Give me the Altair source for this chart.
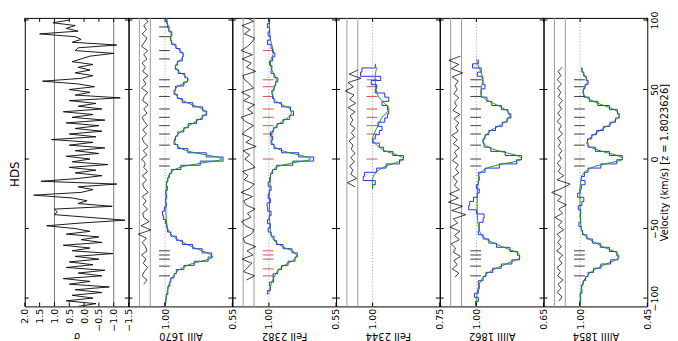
import altair as alt
import pandas as pd

FONT = "DejaVu Sans"
W, H = 105, 292
VDOM = [-106, 101.5]
EDGE_V = [-100, -50, 0, 50, 100]

# ---------------- sigma panel ----------------
SIGMA_V0, SIGMA_DV = -106, 2
SIGMA = [0.2, -0.4, 0.6, -0.3, 0.4, -0.6, 0.3, -0.85, 0.5, -0.2,
         0.7, -0.6, 0.2, -0.7, 0.6, -0.3, 0.5, -0.5, 0.3, -0.98,
         0.4, -0.2, 0.7, -0.6, 0.1, -0.5, 0.6, -0.2, 0.3, 1.26,
         0.1, -1.38, -0.2, 1.0, 0.9, 1.0, -0.95, 0.2, -0.1, 0.4,
         1.7, 0.1, -0.3, 0.2, -1.1, 1.45, 0.2, -0.6, 0.3, -0.4,
         0.5, -0.8, 0.4, -0.2, 0.6, -0.5, 0.3, -0.7, 0.5, -0.3,
         1.1, -0.4, 0.5, -0.6, 0.3, -0.5, 0.6, -0.7, 0.4, -0.3,
         0.7, -0.6, 0.2, -0.4, 0.5, -1.22, 0.3, -0.2, 0.5, -0.35,
         0.2, 1.4, 0.1, -0.3, 0.3, -0.2, 0.2, -0.3, 0.4, 0.1,
         -0.2, -1.0, 0.3, 0.2, -1.1, 0.4, 0.1, 0.3, 1.5, 0.2,
         0.6, 0.3, 1.05, 0.5]
SIGMA_TICKS = [2.0, 1.5, 1.0, 0.5, 0.0, -0.5, -1.0, -1.5]

# ---------------- AlII 1670 ----------------
AL1670_MV = [-105, -98, -90, -84, -80, -76, -73, -70.5, -68, -64, -60, -56, -52, -46, -36,
             -26, -18, -13, -9, -6, -3, 0, 2.5, 5, 8, 12, 16, 20, 24, 28, 31, 33.5, 36, 40, 44,
             48, 52, 55, 57, 60, 64, 67, 71, 74.5, 78, 82, 86, 90, 94, 98, 102]
AL1670_MF = [1.0, 0.99, 0.975, 0.945, 0.91, 0.84, 0.74, 0.68, 0.71, 0.80, 0.88, 0.94, 0.975, 0.99, 0.995,
             0.995, 0.99, 0.98, 0.955, 0.90, 0.76, 0.62, 0.70, 0.82, 0.90, 0.935, 0.93, 0.89, 0.84, 0.78,
             0.74, 0.725, 0.75, 0.84, 0.91, 0.935, 0.92, 0.86, 0.845, 0.87, 0.92, 0.93, 0.90, 0.876, 0.90,
             0.94, 0.965, 0.96, 0.975, 0.985, 0.99]
AL1670_DV0 = -105
AL1670_DATA = [1.003, 0.995, 0.993, 0.982, 0.981, 0.968, 0.962, 0.940, 0.925, 0.874,
               0.805, 0.712, 0.688, 0.752, 0.815, 0.884, 0.925, 0.962, 0.985, 0.990,
               0.998, 1.012, 1.018, 1.005, 0.992, 0.998, 0.990, 0.996, 0.985, 0.992,
               0.982, 0.972, 0.958, 0.895, 0.765, 0.612, 0.725, 0.848, 0.915, 0.940,
               0.930, 0.915, 0.875, 0.845, 0.790, 0.752, 0.722, 0.748, 0.815, 0.885,
               0.918, 0.940, 0.930, 0.875, 0.850, 0.868, 0.912, 0.932, 0.918, 0.885,
               0.880, 0.900, 0.928, 0.958, 0.962, 0.955, 0.975, 0.985, 0.990, 0.992]
AL1670_RV0 = -90
AL1670_RES = [0.2, -0.4, 0.5, 0.1, -0.5, 0.3, -0.2, 0.6, -0.4, -0.1,
              0.5, -0.3, 1.2, -1.1, 0.7, -0.8, 0.2, 0.4, -0.5, 0.3,
              -0.2, 0.5, -0.6, 0.1, 0.4, -0.3, 0.5, -0.5, 0.2, -0.1,
              0.6, -0.4, 0.3, -0.6, 0.2, 0.5, -0.3, 0.4, -0.5, 0.1,
              0.5, -0.4, 0.2, -0.6, 0.4, 0.1, -0.5, 0.6, -0.2, 0.3,
              -0.6, 0.4, -0.1, 0.5, -0.4, 0.2, -0.5, 0.6, 0.1, -0.4,
              0.5, -0.3, 0.2, -0.6, 0.3]

# ---------------- FeII 2382 ----------------
FE2382_MV = [-97, -92, -87, -83, -79, -76, -73, -70, -67, -64, -61, -57, -52, -40, -25, -15, -10,
             -6, -3, 0, 2.5, 5, 8, 12, 16, 20, 24, 27, 30, 33, 36, 39, 42, 46, 50, 54, 57, 60, 64,
             68, 72, 76, 80, 86, 92, 102]
FE2382_MF = [1.0, 0.99, 0.975, 0.955, 0.93, 0.89, 0.84, 0.815, 0.83, 0.89, 0.94, 0.975, 0.99, 0.995,
             0.995, 0.99, 0.985, 0.95, 0.85, 0.72, 0.78, 0.88, 0.95, 0.98, 0.985, 0.975, 0.95, 0.91,
             0.87, 0.85, 0.86, 0.91, 0.955, 0.975, 0.97, 0.955, 0.95, 0.96, 0.98, 0.99, 0.985, 0.97,
             0.975, 0.99, 0.995, 1.0]
FE2382_DV0 = -96
FE2382_DATA = [1.01, 0.99, 0.995, 0.968, 0.972, 0.94, 0.915, 0.872, 0.825, 0.81,
               0.845, 0.905, 0.95, 0.965, 0.985, 1.005, 0.99, 1.01, 0.998, 0.985,
               1.008, 1.012, 0.99, 1.005, 0.998, 0.985, 1.005, 0.995, 0.99, 0.975,
               0.95, 0.84, 0.70, 0.80, 0.915, 0.965, 0.985, 0.975, 0.99, 0.97,
               0.945, 0.905, 0.86, 0.835, 0.855, 0.915, 0.965, 0.975, 0.98, 0.965,
               0.955, 0.94, 0.965, 0.985, 0.98, 0.995, 0.975, 0.96, 0.975, 0.985,
               1.01, 0.99, 1.005, 0.995, 1.01, 0.995, 1.0]
FE2382_RV0 = -87
FE2382_RES = [0.4, -1.1, 0.9, 0.2, -0.6, 1.2, -0.8, 0.3, -1.3, 0.7,
              1.0, -0.5, -1.0, 0.6, 1.3, -0.4, 0.2, -1.2, 0.5, 0.9,
              -0.7, 1.4, -0.3, -1.0, 0.8, 0.1, 1.1, -1.2, -0.4, 0.7,
              -0.2, 1.0, -1.4, 0.5, -0.6, 1.2, 0.3, -0.9, 0.6, 1.4,
              -0.8, 0.2, -1.1, 0.9, -0.3, 1.3, -0.9, -0.2, 0.7, 1.1,
              -1.3, 0.4, -0.5, 1.2, -0.7, 1.4, 0.2, -0.6, -1.1, 0.8,
              -0.3, 1.2, -0.9, 0.5]

# ---------------- FeII 2344 ----------------
FE2344_MV = [-20, -14, -9, -6, -3, 0, 3, 6, 10, 14, 18, 22, 26, 30, 34, 37, 40, 44, 48, 54, 60, 66]
FE2344_MF = [1.0, 1.0, 0.985, 0.96, 0.92, 0.885, 0.91, 0.955, 0.985, 1.0, 0.995, 0.985, 0.975,
             0.965, 0.945, 0.94, 0.955, 0.975, 0.985, 0.99, 0.99, 0.985]
FE2344_DV0 = -20
FE2344_DATA = [1.00, 0.99, 1.035, 1.03, 0.985, 0.95, 0.90, 0.885, 0.925, 0.96,
               0.975, 1.0, 0.99, 0.975, 0.965, 0.98, 0.955, 0.945, 0.94, 0.945,
               0.965, 0.94, 0.955, 0.99, 0.985, 1.005, 0.97, 1.045, 1.04, 0.99]
FE2344_RV0 = -20
FE2344_RES = [-0.5, 0.9, -0.8, 0.3, -0.1, 0.5, -0.4, 0.3, -0.5, 0.2,
              -0.1, 0.6, -0.4, 0.2, -0.5, 0.4, -0.1, 0.4, -0.5, 0.8,
              -0.6, 0.5, -0.3, 1.3, -0.2, 0.8, -1.6, 0.6, -1.0]

# ---------------- AlIII 1862 ----------------
AL1862_MV = [-104, -96, -90, -85, -81, -77, -74, -71, -68, -65, -61, -57, -53, -48, -40, -25, -16,
             -11, -7, -4, -1.5, 0, 2, 5, 8, 12, 16, 20, 24, 28, 31, 34, 38, 42, 46, 50, 54, 58, 62,
             67, 72]
AL1862_MF = [1.0, 0.995, 0.985, 0.965, 0.93, 0.87, 0.82, 0.775, 0.78, 0.83, 0.9, 0.955, 0.98, 0.99,
             0.995, 0.995, 0.99, 0.985, 0.95, 0.88, 0.79, 0.765, 0.78, 0.86, 0.93, 0.965, 0.955,
             0.93, 0.88, 0.84, 0.825, 0.835, 0.88, 0.94, 0.975, 0.975, 0.97, 0.965, 0.975, 0.99, 1.0]
AL1862_DV0 = -104
AL1862_DATA = [1.005, 0.99, 1.01, 0.99, 0.985, 0.99, 0.965, 0.95, 0.915, 0.87,
               0.815, 0.775, 0.785, 0.825, 0.895, 0.935, 0.965, 0.99, 0.985, 0.985,
               0.965, 0.96, 1.0, 1.04, 1.035, 1.015, 0.995, 0.985, 1.0, 0.99,
               0.985, 0.99, 0.955, 0.88, 0.79, 0.765, 0.85, 0.925, 0.96, 0.965,
               0.955, 0.935, 0.90, 0.865, 0.84, 0.82, 0.835, 0.87, 0.92, 0.945,
               0.975, 0.975, 0.955, 0.965, 0.97, 0.995, 0.975, 1.02, 0.99]
AL1862_RV0 = -85
AL1862_RES = [0.2, -0.5, 0.7, -0.2, 0.4, -0.8, 0.5, 0.1, 0.9, -0.6,
              0.3, -0.7, 1.1, -0.3, 0.5, -1.8, 0.8, -1.2, 1.4, -0.4,
              1.2, -0.6, 0.3, -0.2, 0.6, -0.5, 0.1, -0.4, 0.7, -0.2,
              0.3, -0.6, 0.5, -0.2, 0.8, -0.4, 0.1, -0.5, 0.4, -0.7,
              0.6, -0.1, 0.3, -0.5, 0.4, -0.2, 0.2, -0.4, 0.7, -1.2,
              0.9, -0.5, 1.3, -0.8]

# ---------------- AlIII 1854 ----------------
AL1854_MV = [-104, -96, -90, -86, -82, -78, -75, -72, -70, -67, -64, -60, -56, -52, -46, -35, -20,
             -14, -10, -6, -3, 0, 2, 5, 8, 11, 14, 18, 22, 26, 30, 32, 35, 38, 41, 44, 47, 50, 53,
             56, 59, 62, 66]
AL1854_MF = [1.0, 0.995, 0.98, 0.96, 0.92, 0.85, 0.77, 0.70, 0.68, 0.71, 0.79, 0.88, 0.95, 0.985,
             0.995, 1.0, 1.0, 0.99, 0.97, 0.9, 0.77, 0.65, 0.68, 0.8, 0.9, 0.945, 0.93, 0.88, 0.81,
             0.74, 0.69, 0.68, 0.71, 0.79, 0.88, 0.94, 0.975, 0.97, 0.955, 0.94, 0.955, 0.975, 0.99]
AL1854_DV0 = -104
AL1854_DATA = [1.005, 0.995, 1.0, 0.985, 0.99, 0.975, 0.955, 0.935, 0.89, 0.83,
               0.75, 0.69, 0.70, 0.76, 0.835, 0.90, 0.945, 0.98, 0.99, 1.01,
               0.995, 1.0, 0.995, 1.015, 0.985, 0.97, 1.02, 1.0, 0.99, 0.96,
               0.99, 0.965, 0.935, 0.83, 0.70, 0.655, 0.76, 0.875, 0.935, 0.94,
               0.905, 0.865, 0.81, 0.755, 0.71, 0.68, 0.695, 0.76, 0.855, 0.925,
               0.97, 0.975, 0.96, 0.935, 0.95, 0.97, 0.985]
AL1854_RV0 = -102
AL1854_RES = [0.1, -0.4, 0.5, -0.2, 0.3, -0.6, 0.4, -0.1, 0.5, -0.4,
              0.2, -0.5, 0.6, -0.3, 0.4, -0.2, 0.5, -0.7, 0.3, -0.4,
              0.9, -0.5, 0.2, -1.2, 0.4, -0.3, 1.5, -0.4, -1.9, 0.5,
              -0.7, 0.3, -0.2, 0.5, -0.3, 0.2, -0.4, 0.3, -0.2, 0.4,
              -0.5, 0.2, -0.3, 0.5, -0.2, 0.4, -0.3, 0.2, -0.5, 0.3,
              -0.2, 0.4, -0.3, 0.5, -0.2, 0.3, -0.4]

AL_COMPONENTS = [-84, -77, -72, -69, -66, -5, 0, 10, 18, 24, 30, 36, 45, 52, 57, 72, 78, 88, 95]
FE_COMPONENTS = [-84, -79, -72, -69, -66, 0, 18, 24, 30, 36, 45, 52, 57, 78]

DATA_STEP = 3
TITLE_Y = 24


def yenc(axis):
    return alt.Y("v:Q", scale=alt.Scale(domain=VDOM, nice=False, zero=False), axis=axis)


def xenc(dom, axis):
    return alt.X("f:Q", scale=alt.Scale(domain=dom, reverse=True, nice=False, zero=False), axis=axis)


def bottom_axis(values, fmt, title):
    return alt.Axis(values=values, format=fmt, title=title, labelAngle=270, labelAlign="right",
                    labelBaseline="middle", labelPadding=2, labelFlush=False, labelOverlap=False,
                    ticks=False, domain=False, grid=False, titleAngle=180, titleBaseline="bottom",
                    titleY=TITLE_Y, titleFontWeight="normal")


def frame_ticks(X, Y, fvals):
    ev = pd.DataFrame({"v": EDGE_V})
    fv = pd.DataFrame({"f": fvals})
    lt = alt.Chart(ev).mark_rule(color="black", strokeWidth=1).encode(y=Y, x=alt.value(0), x2=alt.value(4))
    rt = alt.Chart(ev).mark_rule(color="black", strokeWidth=1).encode(y=Y, x=alt.value(W - 4), x2=alt.value(W))
    bt = alt.Chart(fv).mark_rule(color="black", strokeWidth=1).encode(x=X, y=alt.value(H), y2=alt.value(H - 4))
    tt = alt.Chart(fv).mark_rule(color="black", strokeWidth=1).encode(x=X, y=alt.value(0), y2=alt.value(4))
    return [lt, rt, bt, tt]


def sigma_panel(yax):
    X = xenc([-1.5, 2.0], bottom_axis(SIGMA_TICKS, ".1f", "σ"))
    Y = yenc(yax)
    lines = pd.DataFrame({"f": [1.0, -1.0]})
    tr = pd.DataFrame({"v": [SIGMA_V0 + SIGMA_DV * i for i in range(len(SIGMA))], "f": SIGMA})
    layers = [
        alt.Chart(lines).mark_rule(color="#777777", strokeWidth=1).encode(x=X),
        alt.Chart(tr).mark_line(color="black", strokeWidth=0.9, clip=True).encode(x=X, y=Y, order="v:Q"),
    ] + frame_ticks(X, Y, SIGMA_TICKS)
    return alt.layer(*layers).properties(width=W, height=H)


def spectral_panel(name, xmin, mv, mf, dv0, dvals, rv0, rvals, comps, ccolor, yax):
    d = 1 - xmin
    dom = [xmin, 1 + 0.545 * d]
    X = xenc(dom, bottom_axis([1.0, xmin], ".2f", name))
    Y = yenc(yax)
    bands = pd.DataFrame({"f": [1 + 0.383 * d, 1 + 0.221 * d]})
    dotted = pd.DataFrame({"f": [1.0]})
    res = pd.DataFrame({"v": [rv0 + DATA_STEP * i for i in range(len(rvals))],
                        "f": [1 + 0.302 * d + r * 0.081 * d for r in rvals]})
    vmin, vmax = dv0, dv0 + DATA_STEP * (len(dvals) - 1)
    cv = [c for c in comps if vmin <= c <= vmax]
    comp = pd.DataFrame({"v": cv, "f": [1 + 0.09 * d] * len(cv), "f2": [1 - 0.07 * d] * len(cv)})
    rows = []
    for i, fv in enumerate(dvals):
        v = dv0 + DATA_STEP * i
        rows.append({"k": 2 * i, "v": v - DATA_STEP / 2, "f": fv})
        rows.append({"k": 2 * i + 1, "v": v + DATA_STEP / 2, "f": fv})
    steps = pd.DataFrame(rows)
    model = pd.DataFrame({"v": mv, "f": mf})
    layers = [
        alt.Chart(bands).mark_rule(color="#9a9a9a", strokeWidth=1).encode(x=X),
        alt.Chart(dotted).mark_rule(color="#888888", strokeWidth=0.8, strokeDash=[1, 2]).encode(x=X),
        alt.Chart(res).mark_line(color="black", strokeWidth=0.75, clip=True).encode(x=X, y=Y, order="v:Q"),
        alt.Chart(comp).mark_rule(color=ccolor, strokeWidth=1).encode(x=X, x2="f2:Q", y=Y),
        alt.Chart(steps).mark_line(color="#2a2aff", strokeWidth=1, clip=True).encode(x=X, y=Y, order="k:Q"),
        alt.Chart(model).mark_line(color="#1a951a", strokeWidth=1, interpolate="catmull-rom", clip=True).encode(
            x=X, y=Y, order="v:Q"),
    ] + frame_ticks(X, Y, [1.0, xmin])
    return alt.layer(*layers).properties(width=W, height=H)


left_axis = alt.Axis(orient="left", labels=False, ticks=False, domain=False, grid=False, title="HDS",
                     titleFontSize=12, titlePadding=3, titleFontWeight="normal", titleY=H * 0.54)
right_axis = alt.Axis(orient="right", values=EDGE_V, format="d", labelAngle=270, labelAlign="center",
                      labelBaseline="top", labelPadding=2, ticks=False, domain=False, grid=False,
                      title="Velocity (km/s) [z = 1.8023626]", titleAngle=270, titleBaseline="top",
                      titlePadding=1, titleFontWeight="normal")

AL_COLOR = "#3a3a3a"
FE_COLOR = "#d05050"

panels = [
    sigma_panel(left_axis),
    spectral_panel("AlII 1670", 0.55, AL1670_MV, AL1670_MF, AL1670_DV0, AL1670_DATA, AL1670_RV0, AL1670_RES,
                   AL_COMPONENTS, AL_COLOR, None),
    spectral_panel("FeII 2382", 0.55, FE2382_MV, FE2382_MF, FE2382_DV0, FE2382_DATA, FE2382_RV0, FE2382_RES,
                   FE_COMPONENTS, FE_COLOR, None),
    spectral_panel("FeII 2344", 0.75, FE2344_MV, FE2344_MF, FE2344_DV0, FE2344_DATA, FE2344_RV0, FE2344_RES,
                   FE_COMPONENTS, FE_COLOR, None),
    spectral_panel("AlIII 1862", 0.65, AL1862_MV, AL1862_MF, AL1862_DV0, AL1862_DATA, AL1862_RV0, AL1862_RES,
                   AL_COMPONENTS, AL_COLOR, None),
    spectral_panel("AlIII 1854", 0.45, AL1854_MV, AL1854_MF, AL1854_DV0, AL1854_DATA, AL1854_RV0, AL1854_RES,
                   AL_COMPONENTS, AL_COLOR, right_axis),
]

chart = alt.hconcat(*panels, spacing=0, bounds="flush", padding=0, background="white").configure_view(
    stroke="black", strokeWidth=1
).configure_axis(
    labelFont=FONT, titleFont=FONT, labelFontSize=9.5, titleFontSize=10,
    labelColor="black", titleColor="black"
)

chart.save("out.html", embed_options={"renderer": "svg", "actions": False})
